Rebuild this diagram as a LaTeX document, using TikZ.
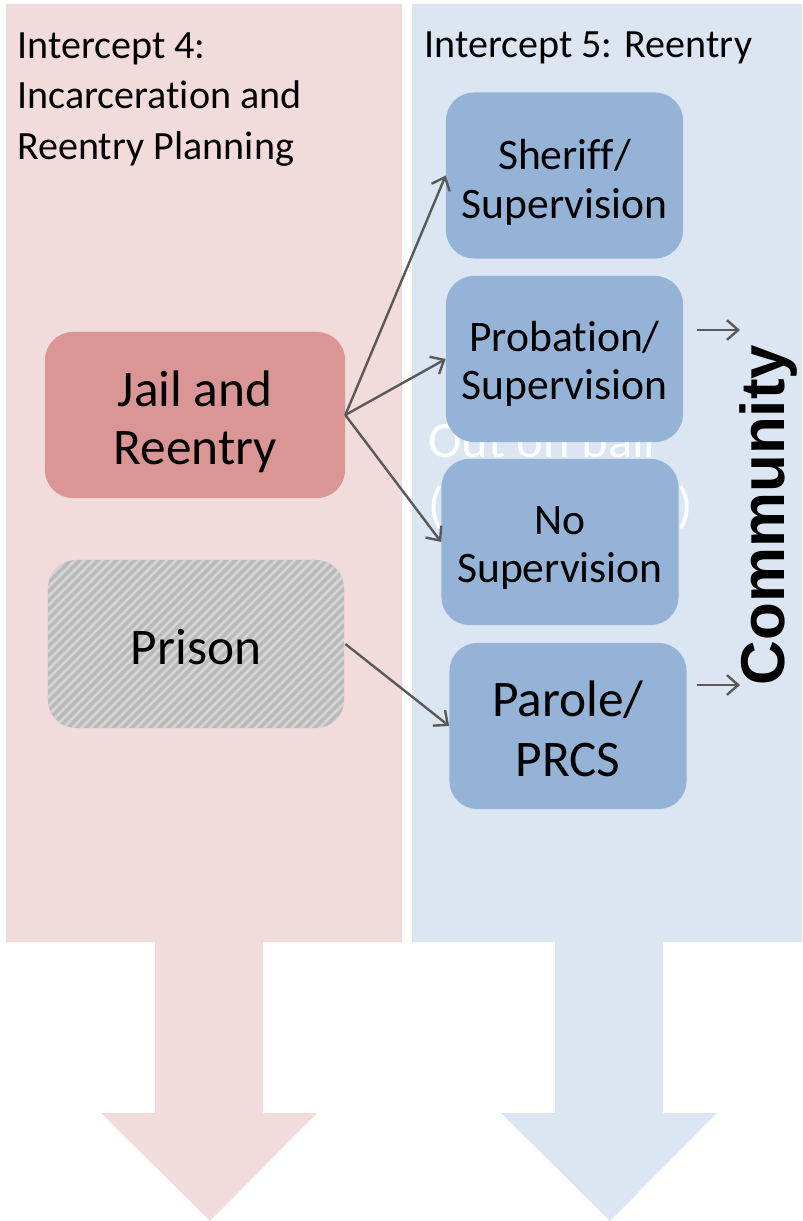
\documentclass[tikz,border=0pt]{standalone}
\usepackage{fontspec}
\setmainfont{Carlito}[Ligatures=NoCommon]
\newfontfamily\commfont{Liberation Sans}
\usetikzlibrary{arrows.meta,patterns.meta}

\definecolor{panelred}{HTML}{F2DCDB}
\definecolor{panelblue}{HTML}{DCE6F2}
\definecolor{jailred}{HTML}{D99694}
\definecolor{boxblue}{HTML}{95B3D7}
\definecolor{prisongray}{HTML}{BABABA}
\definecolor{hatchgray}{HTML}{D6D6D6}
\definecolor{linkgray}{HTML}{595959}

\begin{document}
\begin{tikzpicture}[x=0.025cm, y=-0.025cm,
	stepblue/.style={fill=boxblue, rounded corners=0.7cm, minimum width=5.925cm, minimum height=4.15cm},
	smalltext/.style={align=center, inner sep=0pt, font=\fontsize{31}{34.7}\selectfont},
	bigtext/.style={align=center, inner sep=0pt, font=\fontsize{36.5}{41}\selectfont},
	headtext/.style={anchor=north west, align=left, inner sep=0pt, font=\fontsize{28.5}{36}\selectfont},
	link/.style={draw=linkgray, line width=1.7pt, -{Straight Barb[length=8pt, width=14pt]}}]
	% Background panels and arrows:
	\useasboundingbox (0, 0) rectangle (802, 1221);
	\fill[panelred] (6, 4) -- (402, 4) -- (402, 942) -- (263, 942) -- (263, 1113) -- (317, 1113) -- (210, 1221) -- (101, 1113) -- (155, 1113) -- (155, 942) -- (6, 942) -- cycle;
	\fill[panelblue] (412, 4) -- (802, 4) -- (802, 942) -- (663, 942) -- (663, 1113) -- (717, 1113) -- (610, 1221) -- (501, 1113) -- (555, 1113) -- (555, 942) -- (412, 942) -- cycle;
	\node[headtext] (H4) at (17, 32) {Intercept 4:\\Incarceration and\\Reentry Planning};
	\node[headtext] (H5) at (424, 32) {Intercept 5: Reentry};
	\node[white, anchor=north west, align=left, inner sep=0pt, font=\fontsize{36}{46}\selectfont] (Bail) at (428, 422) {Out on bail\\\makebox[6.6cm][s]{(\hfill)}};
	% Boxes:
	\node[fill=jailred, rounded corners=0.7cm, minimum width=7.5cm, minimum height=4.15cm] (Jail) at (195, 415) {};
	\node[preaction={fill=prisongray}, pattern={Lines[angle=45, distance=4.6pt, line width=1.9pt]}, pattern color=hatchgray, rounded corners=0.7cm, minimum width=7.4cm, minimum height=4.2cm] (Prison) at (196, 644) {};
	\node[stepblue] (Sheriff) at (564.5, 175.5) {};
	\node[stepblue] (Probation) at (564.5, 359) {};
	\node[stepblue] (NoSup) at (560, 542) {};
	\node[stepblue] (Parole) at (568, 726) {};
	% Box texts:
	\node[bigtext] (JailT) at ([yshift=-0.17cm]Jail) {Jail and\\Reentry};
	\node[bigtext] (PrisonT) at ([yshift=-0.08cm]Prison) {Prison};
	\node[smalltext] (SheriffT) at ([yshift=-0.17cm]Sheriff) {Sheriff/\\Supervision};
	\node[smalltext] (ProbationT) at ([yshift=-0.12cm]Probation) {Probation/\\Supervision};
	\node[smalltext] (NoSupT) at ([yshift=-0.15cm]NoSup) {No\\Supervision};
	\node[bigtext, font=\fontsize{36.5}{42.5}\selectfont] (ParoleT) at ([yshift=-0.08cm]Parole) {Parole/\\PRCS};
	\node[rotate=90, font=\commfont\bfseries\fontsize{44}{50}\selectfont] (Comm) at (768, 515) {Community};
	% Links:
	\draw[link] (Jail.east) -- (Sheriff.west);
	\draw[link] (Jail.east) -- (Probation.west);
	\draw[link] (Jail.east) -- (NoSup.west);
	\draw[link] (Prison.east) -- (Parole.west);
	\coordinate (C1a) at (697, 330);
	\coordinate (C1b) at (740, 330);
	\coordinate (C2a) at (697, 685);
	\coordinate (C2b) at (740, 685);
	\draw[link] (C1a) -- (C1b);
	\draw[link] (C2a) -- (C2b);
\end{tikzpicture}
\end{document}
